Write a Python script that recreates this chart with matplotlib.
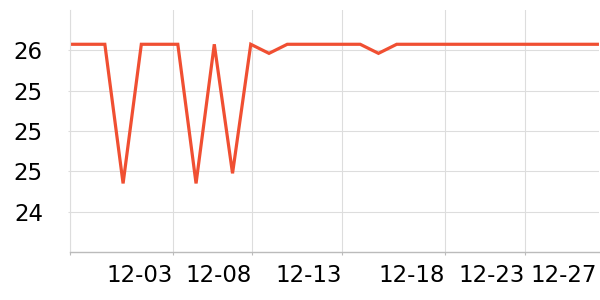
import matplotlib
matplotlib.use("Agg")
import matplotlib.pyplot as plt
from matplotlib.ticker import FormatStrFormatter

# Data: one value per day, 11-28 .. 12-27
dates = ["11-28", "11-29", "11-30", "12-01", "12-02", "12-03", "12-04", "12-05",
         "12-06", "12-07", "12-08", "12-09", "12-10", "12-11", "12-12", "12-13",
         "12-14", "12-15", "12-16", "12-17", "12-18", "12-19", "12-20", "12-21",
         "12-22", "12-23", "12-24", "12-25", "12-26", "12-27"]
values = [25.86, 25.86, 25.86, 24.48, 25.86, 25.86, 25.86, 24.48,
          25.86, 24.58, 25.86, 25.77, 25.86, 25.86, 25.86, 25.86,
          25.86, 25.77, 25.86, 25.86, 25.86, 25.86, 25.86, 25.86,
          25.86, 25.86, 25.86, 25.86, 25.86, 25.86]
xtick_labels = ["12-03", "12-08", "12-13", "12-18", "12-23", "12-27"]
ytick_values = [24.2, 24.6, 25.0, 25.4, 25.8]

# Layout (tick positions as rendered in the reference)
xtick_pos = [5.73, 10.08, 15.02, 20.67, 25.05, 29.0]

fig = plt.figure(figsize=(6, 3), dpi=100)
ax = fig.add_axes([70 / 600, 48 / 300, 529 / 600, 242 / 300])

x = list(range(len(values)))
ax.plot(x, values, color="#f04f32", linewidth=2.3, solid_joinstyle="miter")

ax.set_xlim(0.09, 29.09)
ax.set_ylim(23.8, 26.2)

ax.set_xticks([0.09] + xtick_pos)
ax.set_xticklabels([""] + xtick_labels, ha="right")
ax.set_yticks(ytick_values)
ax.yaxis.set_major_formatter(FormatStrFormatter("%.0f"))

ax.grid(True, color="#dddddd", linewidth=0.8)
ax.set_axisbelow(True)
ax.get_xgridlines()[-1].set_visible(False)
ax.xaxis.get_major_ticks()[-1].tick1line.set_visible(False)

for s in ["top", "right"]:
    ax.spines[s].set_visible(False)
ax.spines["left"].set_color("#dddddd")
ax.spines["left"].set_linewidth(0.8)
ax.spines["bottom"].set_color("#bbbbbb")
ax.spines["bottom"].set_linewidth(1.0)

ax.tick_params(axis="x", length=2, color="#bbbbbb", labelsize=16.5, pad=7)
ax.tick_params(axis="y", length=1.5, color="#dddddd", labelsize=16.5, pad=18)

fig.savefig("out.png", dpi=100)
